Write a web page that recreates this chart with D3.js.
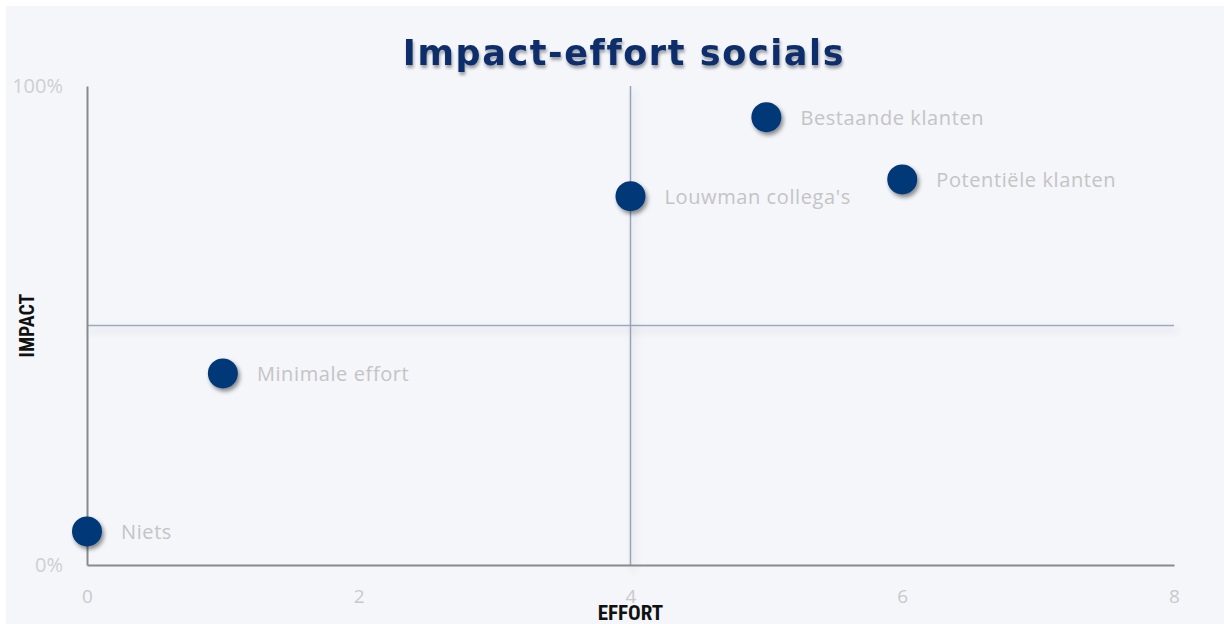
<!DOCTYPE html>
<html><head><meta charset="utf-8">
<script src="https://cdn.jsdelivr.net/npm/d3@7"></script>
<style>
html,body{margin:0;padding:0;background:#fff;}
svg{display:block;}
</style></head>
<body>
<svg id="chart" width="1224" height="624"></svg>
<script>
const names = ["Niets", "Minimale effort", "Louwman collega's", "Bestaande klanten", "Potentiële klanten"];
const effort = [0, 1, 4, 5, 6];
const impact = [7, 40, 77, 93.5, 80.5];
const xTicks = [0, 2, 4, 6, 8];
const yTicks = [0, 100];
const title = "Impact-effort socials";
const xTitle = "EFFORT";
const yTitle = "IMPACT";
const midX = 4, midY = 50;

const svg = d3.select("#chart");
const W = 1224, H = 624;
const m = {left: 87, right: 50, top: 86, bottom: 59};

const defs = svg.append("defs");
const f = defs.append("filter").attr("id","sh").attr("x","-50%").attr("y","-50%").attr("width","200%").attr("height","200%");
f.append("feDropShadow").attr("dx",2).attr("dy",3).attr("stdDeviation",2.2).attr("flood-color","#000").attr("flood-opacity",0.45);
const ft = defs.append("filter").attr("id","tsh").attr("x","-10%").attr("y","-30%").attr("width","120%").attr("height","160%");
ft.append("feDropShadow").attr("dx",1).attr("dy",3).attr("stdDeviation",1.6).attr("flood-color","#000").attr("flood-opacity",0.35);
const fl = defs.append("filter").attr("id","lsh").attr("filterUnits","userSpaceOnUse")
  .attr("x",0).attr("y",0).attr("width",W).attr("height",H);
fl.append("feDropShadow").attr("dx",3).attr("dy",5).attr("stdDeviation",3).attr("flood-color","#556").attr("flood-opacity",0.25);

svg.append("rect").attr("x",6).attr("y",6).attr("width",W-6).attr("height",H-6).attr("fill","#f4f6fa");

const x = d3.scaleLinear().domain([0,8]).range([m.left, W - m.right]);
const y = d3.scaleLinear().domain([0,100]).range([H - m.bottom, m.top]);

// title
svg.append("text").attr("x", 624).attr("y", 65).attr("text-anchor","middle")
  .attr("font-family","'DejaVu Sans', sans-serif").attr("font-weight","bold").attr("font-size",35)
  .attr("letter-spacing", 1.6)
  .attr("fill","#0b2d6b").attr("filter","url(#tsh)").text(title);

// quadrant lines
svg.append("line").attr("x1", x(0)).attr("x2", x(8)).attr("y1", y(midY)).attr("y2", y(midY))
  .attr("stroke","#9aaabf").attr("stroke-width",1.5).attr("filter","url(#lsh)");
svg.append("line").attr("x1", x(midX)).attr("x2", x(midX)).attr("y1", y(100)).attr("y2", y(0))
  .attr("stroke","#95a3b8").attr("stroke-width",1.5).attr("filter","url(#lsh)");

// axes
const xAxis = d3.axisBottom(x).tickValues(xTicks).tickSize(0).tickPadding(25).tickFormat(d3.format("d"));
const gx = svg.append("g").attr("transform",`translate(0,${y(0)})`).call(xAxis);
gx.select(".domain").attr("stroke","#8a8a8a").attr("stroke-width",2);
gx.selectAll("text").attr("font-family","'Open Sans', sans-serif").attr("font-size",19).attr("fill","#c9c9c9");

const yAxis = d3.axisLeft(y).tickValues(yTicks).tickSize(0).tickPadding(24).tickFormat(d => d + "%");
const gy = svg.append("g").attr("transform",`translate(${x(0)},0)`).call(yAxis);
gy.select(".domain").attr("stroke","#8a8a8a").attr("stroke-width",2);
gy.selectAll("text").attr("font-family","'Open Sans', sans-serif").attr("font-size",20).attr("fill","#cfcfcf");

// axis titles
svg.append("text").attr("x", x(midX)).attr("y", 620).attr("text-anchor","middle")
  .attr("font-family","'Liberation Sans Narrow', 'Roboto Condensed', sans-serif").attr("font-weight","bold")
  .attr("font-size",21).attr("fill","#111").text(xTitle);
svg.append("text").attr("transform",`translate(34,${y(midY)}) rotate(-90)`).attr("text-anchor","middle")
  .attr("font-family","'Liberation Sans Narrow', 'Roboto Condensed', sans-serif").attr("font-weight","bold")
  .attr("font-size",20).attr("fill","#111").text(yTitle);

// points
const pts = names.map((n,i) => ({n, e: effort[i], v: impact[i]}));
const g = svg.append("g");
g.selectAll("circle").data(pts).join("circle")
  .attr("cx", d => x(d.e)).attr("cy", d => y(d.v)).attr("r", 15)
  .attr("fill","#003778").attr("filter","url(#sh)");
g.selectAll("text").data(pts).join("text")
  .attr("x", d => x(d.e) + 34).attr("y", d => y(d.v) + 8)
  .attr("font-family","'Open Sans', sans-serif").attr("font-size",20).attr("letter-spacing",0.6).attr("fill","#c4c4c4")
  .text(d => d.n);
</script>
</body></html>
